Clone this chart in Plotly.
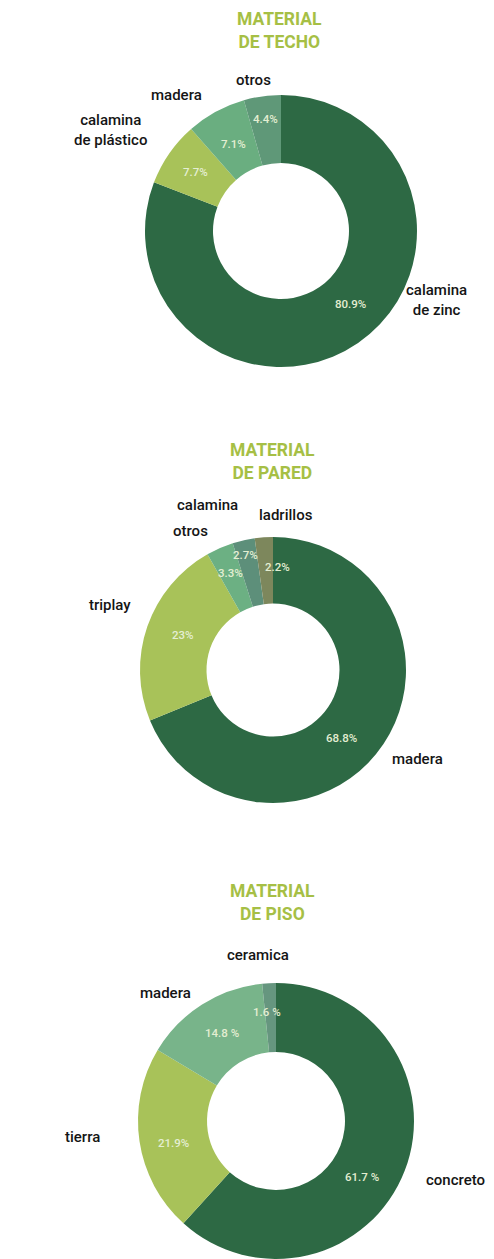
import plotly.graph_objects as go

W, H = 494, 1259

# --- data -------------------------------------------------------------
techo_labels = ["calamina<br>de zinc", "calamina<br>de plástico", "madera", "otros"]
techo_values = [80.9, 7.7, 7.1, 4.4]

pared_labels = ["madera", "triplay", "otros", "calamina", "ladrillos"]
pared_values = [68.8, 23, 3.3, 2.7, 2.2]

piso_labels = ["concreto", "tierra", "madera", "ceramica"]
piso_values = [61.7, 21.9, 14.8, 1.6]

titles = ["MATERIAL<br>DE TECHO", "MATERIAL<br>DE PARED", "MATERIAL<br>DE PISO"]

# percent sign spacing as printed on each slice
techo_suffix = ["%", "%", "%", "%"]
pared_suffix = ["%", "%", "%", "%", "%"]
piso_suffix = [" %", "%", " %", " %"]

# --- styling ----------------------------------------------------------
techo_colors = ["#2d6944", "#a8c259", "#6aae80", "#5f9878"]
pared_colors = ["#2d6944", "#a8c259", "#6cb083", "#5d8f7a", "#7d875c"]
piso_colors = ["#2d6944", "#a8c259", "#78b48a", "#66967f"]

# donut centre (px) and outer radius (px)
geoms = [((281, 231), 136), ((273, 670), 133), ((276, 1121), 138)]

# text placements in pixels
title_pos = [(279, 30), (272, 461), (272, 903)]
techo_label_pos = [(436, 300), (110, 130), (176, 95), (254, 80)]
techo_pct_pos = [(350, 304), (195, 172), (233, 144), (265, 119)]
pared_label_pos = [(417, 759), (110, 605), (190, 531), (207, 505), (286, 515)]
pared_pct_pos = [(341, 738), (183, 635), (230, 573), (245, 555), (277, 567)]
piso_label_pos = [(455, 1180), (82, 1137), (165, 993), (258, 955)]
piso_pct_pos = [(362, 1177), (173, 1143), (222, 1033), (267, 1012)]

FONT = "Roboto"
TITLE_COLOR = "#a6bf45"
LABEL_COLOR = "#151515"
PCT_COLOR = "#e4eed2"


def domain(center, r):
    cx, cy = center
    return dict(
        x=[(cx - r) / W, (cx + r) / W],
        y=[max(0, (H - cy - r) / H), min(1, (H - cy + r) / H)],
    )


def paper(x, y):
    return x / W, 1 - y / H


fig = go.Figure()
series = [
    (techo_labels, techo_values, techo_colors),
    (pared_labels, pared_values, pared_colors),
    (piso_labels, piso_values, piso_colors),
]
for (labels, values, colors), (center, r) in zip(series, geoms):
    fig.add_trace(go.Pie(
        labels=labels,
        values=values,
        hole=0.5,
        sort=False,
        direction="clockwise",
        rotation=0,
        marker=dict(colors=colors, line=dict(width=0)),
        textinfo="none",
        hoverinfo="label+value",
        showlegend=False,
        domain=domain(center, r),
    ))

annotations = []


def add_text(text, pos, size, color, weight=400):
    x, y = paper(*pos)
    annotations.append(dict(
        text=text,
        x=x, y=y, xref="paper", yref="paper",
        xanchor="center", yanchor="middle",
        showarrow=False,
        font=dict(family=FONT, size=size, color=color, weight=weight),
    ))


for t, pos in zip(titles, title_pos):
    add_text(t, pos, 17.5, TITLE_COLOR, weight=700)

label_sets = [
    (techo_labels, techo_values, techo_suffix, techo_label_pos, techo_pct_pos),
    (pared_labels, pared_values, pared_suffix, pared_label_pos, pared_pct_pos),
    (piso_labels, piso_values, piso_suffix, piso_label_pos, piso_pct_pos),
]
for labels, values, suffix, lpos, ppos in label_sets:
    for lab, val, suf, lp, pp in zip(labels, values, suffix, lpos, ppos):
        add_text(lab, lp, 15, LABEL_COLOR, weight=500)
        add_text(f"{val:g}{suf}", pp, 11.5, PCT_COLOR, weight=500)

fig.update_layout(
    width=W,
    height=H,
    margin=dict(l=0, r=0, t=0, b=0),
    paper_bgcolor="white",
    plot_bgcolor="white",
    annotations=annotations,
)

fig.write_html("out.html")
